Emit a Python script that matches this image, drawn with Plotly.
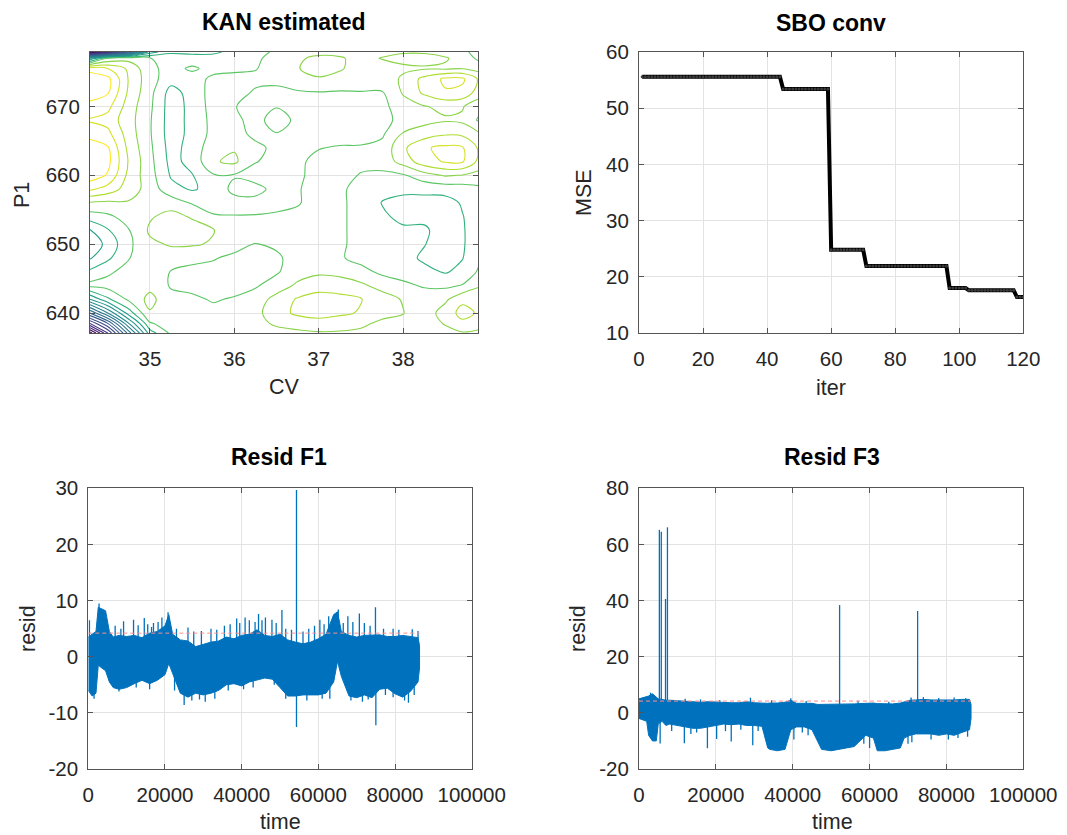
import plotly.graph_objects as go
from plotly.colors import sample_colorscale

W, H = 1067, 835

# ---------------- Panel 1: KAN estimated (contour of estimated surface) ----------------
cv_grid = [34.29, 34.5, 34.75, 35.0, 35.25, 35.5, 35.75, 36.0, 36.25, 36.5,
           36.75, 37.0, 37.25, 37.5, 37.75, 38.0, 38.25, 38.5, 38.7, 38.89]
p1_grid = [637.1, 638.5, 640, 642, 644, 646, 648, 650, 652, 654, 656, 658,
           660, 662, 664, 666, 668, 670, 672, 674, 675.5, 677, 677.9]
kan_z = [
    [-0.5, 4.0, 9.5, 14.5, 16.2, 16.5, 16.6, 16.6, 16.7, 16.8, 16.8, 16.9, 16.9, 16.8, 16.6, 16.4, 16.4, 16.6, 16.9, 16.8],
    [4.0, 7.0, 12.0, 15.9, 16.5, 16.5, 16.5, 16.6, 16.8, 17.1, 17.4, 17.6, 17.4, 17.2, 16.8, 16.6, 16.4, 17.1, 17.8, 17.4],
    [8.0, 11.0, 14.5, 16.9, 16.5, 16.4, 16.3, 16.4, 16.7, 17.6, 18.2, 18.4, 18.2, 17.9, 17.3, 17.05, 16.4, 17.5, 18.3, 17.9],
    [13.0, 14.8, 16.2, 17.3, 16.3, 16.2, 15.9, 16.1, 16.4, 17.4, 18.1, 18.4, 18.3, 18.05, 17.5, 16.9, 16.5, 16.8, 17.8, 17.6],
    [16.3, 16.4, 16.6, 16.7, 15.9, 15.7, 15.5, 15.6, 15.9, 16.4, 17.2, 17.6, 17.5, 17.2, 16.6, 16.2, 15.9, 15.8, 16.05, 16.9],
    [15.2, 15.8, 16.4, 16.6, 15.95, 15.7, 15.6, 15.4, 15.7, 15.9, 16.5, 16.8, 16.7, 16.3, 15.8, 15.6, 15.3, 14.9, 15.3, 16.1],
    [13.9, 14.8, 15.95, 16.6, 16.5, 16.3, 16.1, 15.7, 15.6, 15.8, 16.5, 16.5, 16.1, 15.7, 15.5, 15.4, 14.8, 14.5, 14.95, 15.8],
    [13.3, 14.3, 15.8, 16.8, 17.1, 17.1, 16.9, 16.5, 15.95, 16.2, 16.5, 16.5, 16.2, 15.6, 15.4, 15.3, 15.05, 14.4, 14.9, 15.5],
    [13.9, 14.9, 15.95, 17.15, 17.5, 17.4, 17.05, 16.6, 16.5, 16.5, 16.5, 16.5, 16.2, 15.6, 15.3, 15.2, 15.2, 14.4, 14.9, 15.5],
    [15.5, 15.8, 16.4, 16.9, 17.3, 16.9, 16.1, 16.05, 16.05, 16.1, 16.3, 16.5, 16.2, 15.6, 15.2, 14.7, 14.7, 14.4, 14.95, 15.5],
    [16.9, 16.8, 16.9, 16.8, 16.6, 15.9, 15.6, 15.6, 15.7, 15.8, 15.9, 16.5, 16.2, 15.6, 14.95, 14.6, 14.6, 14.6, 15.1, 15.6],
    [19.2, 18.6, 17.5, 16.6, 15.3, 14.9, 15.3, 16.3, 16.3, 15.7, 15.9, 16.5, 16.2, 15.6, 15.4, 15.3, 15.3, 15.4, 15.5, 15.8],
    [20.6, 19.9, 17.7, 16.4, 14.9, 14.95, 15.9, 15.9, 15.6, 15.6, 15.8, 16.4, 16.5, 15.9, 15.8, 15.9, 16.6, 17.1, 16.95, 16.6],
    [20.9, 20.3, 17.9, 16.3, 14.7, 15.3, 16.9, 17.2, 16.05, 15.7, 15.8, 16.3, 16.5, 16.4, 16.4, 17.4, 18.6, 19.1, 19.15, 17.8],
    [20.6, 20.1, 17.7, 16.2, 14.6, 15.4, 16.6, 16.9, 16.2, 15.8, 15.6, 15.95, 16.1, 16.1, 16.3, 17.8, 18.9, 19.2, 19.1, 17.9],
    [19.6, 19.3, 17.5, 16.1, 14.5, 15.3, 16.3, 16.3, 15.8, 15.95, 15.6, 15.5, 15.5, 15.6, 15.85, 17.1, 17.5, 17.9, 17.8, 17.2],
    [18.9, 18.6, 17.4, 16.1, 14.5, 15.3, 16.3, 16.2, 15.7, 16.4, 15.8, 15.6, 15.5, 15.5, 15.7, 16.3, 16.7, 16.9, 16.8, 15.9],
    [19.6, 19.3, 17.5, 16.2, 14.5, 15.3, 16.4, 16.05, 15.6, 15.95, 15.6, 15.6, 15.6, 15.6, 15.7, 16.6, 16.95, 17.2, 17.1, 16.3],
    [20.6, 20.1, 17.8, 16.3, 14.6, 15.4, 16.4, 16.3, 15.9, 15.8, 15.85, 15.95, 15.9, 15.95, 15.95, 17.1, 18.2, 18.9, 18.7, 17.6],
    [20.8, 20.3, 17.9, 16.4, 15.4, 15.6, 16.2, 16.3, 16.2, 16.2, 16.8, 16.9, 16.7, 16.5, 16.3, 17.2, 18.3, 19.2, 19.2, 17.9],
    [19.5, 19.0, 17.8, 16.2, 15.7, 16.15, 15.7, 15.8, 15.95, 16.4, 16.95, 17.4, 17.1, 16.6, 16.6, 16.8, 16.9, 16.85, 16.95, 16.6],
    [13.0, 16.0, 16.6, 16.05, 15.6, 15.5, 15.4, 15.5, 15.8, 16.4, 16.9, 17.15, 17.1, 16.7, 17.05, 17.3, 17.3, 17.1, 16.6, 15.8],
    [-0.5, 2.0, 7.0, 13.5, 14.8, 14.7, 14.8, 15.3, 15.6, 16.2, 16.5, 16.8, 16.7, 16.5, 16.7, 16.9, 16.9, 16.6, 16.2, 15.7],
]
# viridis position used for each contour level 0..20
level_pos = [0.55 * k / 14 for k in range(15)] + [0.64, 0.74, 0.82, 0.88, 0.94, 1.0]
level_cols = sample_colorscale("Viridis", level_pos)
kan_colorscale = [[k / 20, c] for k, c in enumerate(level_cols)]

# ---------------- Panel 2: SBO convergence ----------------
sbo_iter = list(range(1, 121))
sbo_mse = [55.6] * 44 + [53.4] * 15 + [24.8] * 11 + [21.9] * 26 + [18.0] * 6 + [17.6] * 15 + [16.4] * 3

# ---------------- Panel 3: Resid F1 (envelope of dense residual trace) ----------------
f1_t = [0, 1000, 2000, 2600, 3500, 4500, 5500, 6500, 8000, 10000, 12000, 14000, 16000, 18000,
        20000, 21000, 22000, 24000, 26000, 28000, 30000, 32000, 34000, 36000, 38000, 40000,
        42000, 44000, 46000, 48000, 50000, 52000, 54000, 56000, 58000, 60000, 62000, 64000,
        65000, 66000, 68000, 70000, 72000, 74000, 76000, 78000, 80000, 82000, 84000, 86000, 86400]
f1_hi = [3.5, 4.0, 4.5, 8.8, 8.5, 8.2, 4.5, 3.5, 3.8, 3.6, 3.8, 3.4, 4.2, 4.5,
         5.5, 7.5, 4.0, 3.0, 2.8, 1.8, 2.2, 2.6, 2.8, 3.5, 3.2, 3.8,
         4.0, 4.8, 3.8, 3.6, 4.0, 3.0, 2.6, 2.3, 2.6, 3.2, 4.0, 7.5,
         8.0, 4.5, 3.8, 3.5, 3.8, 3.8, 3.9, 3.6, 3.6, 3.8, 3.6, 3.4, 2.0]
f1_lo = [-6.0, -7.0, -6.5, -1.5, -2.0, -2.5, -4.5, -5.5, -5.8, -5.5, -4.8, -4.2, -4.8, -4.2,
         -3.2, -1.2, -3.0, -6.5, -7.2, -6.5, -6.8, -6.5, -6.0, -5.0, -4.8, -5.2,
         -4.5, -4.2, -3.8, -4.0, -5.5, -7.0, -7.0, -6.8, -6.8, -6.8, -6.5, -4.5,
         -0.8, -3.5, -7.0, -7.3, -6.8, -7.3, -5.8, -5.6, -6.6, -7.2, -6.2, -4.5, -2.0]
f1_spike_t = [300, 2800, 9200, 11800, 14600, 17000, 19200, 20800, 26000, 32000, 38700, 40900,
              44400, 46200, 47900, 50500, 54300, 57500, 60400, 62700, 65200, 67700, 70700,
              74900, 79500, 84500,
              7000, 8500, 13000, 15500, 16500, 18200, 23000, 27500, 29500, 33500, 35500, 37000,
              39500, 42000, 43500, 45300, 49000, 51500, 53000, 56000, 59000, 61500, 63500, 66500,
              69000, 72000, 73500, 77000, 81000, 86000,
              25000, 30500, 54300, 75000, 83500,
              1500, 8000, 12500, 16000, 22500, 27000, 29000, 33000, 36500, 40500, 43000, 48500,
              51500, 57000, 61000, 63000, 68500, 71500, 73000, 77500, 79500, 82500, 85000]
f1_spike_v = [6.5, 9.5, 6.3, 6.6, 6.9, 6.0, 7.0, 7.9, 5.2, 5.0, 6.8, 7.0,
              7.6, 7.0, 6.6, 8.3, 29.7, 5.0, 6.6, 7.2, 8.4, 7.2, 7.7,
              8.8, 5.0, 4.9,
              5.5, 5.0, 5.6, 5.8, 5.3, 6.2, 5.0, 4.5, 4.6, 4.8, 5.5, 5.8,
              6.0, 6.5, 6.2, 6.5, 6.0, 5.0, 4.8, 4.5, 5.5, 5.8, 6.0, 6.0,
              6.2, 6.0, 5.5, 5.0, 4.8, 4.6,
              -8.6, -8.0, -12.5, -12.2, -8.2,
              -7.5, -6.2, -5.5, -5.8, -6.0, -7.8, -7.6, -7.5, -6.0, -5.8, -5.5, -5.0,
              -7.5, -7.8, -7.5, -7.5, -7.8, -8.0, -7.6, -6.8, -7.2, -7.8, -6.8]
f1_threshold = 4.2

# ---------------- Panel 4: Resid F3 ----------------
f3_t = [0, 1000, 2000, 2500, 3500, 4500, 5000, 6000, 7000, 8000, 10000, 12000, 14000, 16000,
        18000, 20000, 22000, 24000, 26000, 28000, 30000, 32000, 33500, 34000, 36000, 38000,
        38800, 39500, 41000, 43000, 45000, 46500, 47500, 50000, 52000, 54000, 56000, 57500,
        59000, 61000, 62000, 64000, 66000, 68000, 69000, 70500, 72000, 74000, 76000, 78000,
        80000, 82000, 84000, 86000, 86400]
f3_hi = [5.0, 5.5, 6.0, 6.0, 6.8, 5.8, 5.0, 4.8, 4.5, 4.5, 4.3, 4.2, 4.0, 3.8,
         4.0, 3.8, 3.8, 3.6, 3.6, 4.0, 3.6, 3.4, 3.4, 3.5, 3.5, 3.8,
         4.2, 4.5, 3.4, 3.5, 3.4, 3.0, 3.0, 3.0, 3.2, 3.0, 3.2, 3.3,
         3.5, 3.5, 3.3, 3.3, 3.2, 3.5, 3.8, 4.5, 4.6, 4.8, 4.6, 4.6,
         4.5, 4.6, 4.8, 4.8, 3.0]
f3_lo = [-2.0, -2.5, -3.0, -8.0, -10.0, -10.0, -4.0, -3.0, -4.5, -4.0, -4.5, -5.0, -5.5, -5.5,
         -5.0, -4.5, -4.0, -4.2, -4.0, -4.5, -4.5, -4.8, -12.5, -13.0, -13.5, -13.0,
         -9.0, -6.0, -5.0, -5.0, -6.0, -10.0, -13.0, -13.5, -13.0, -12.5, -12.0, -10.0,
         -8.0, -9.0, -13.5, -13.5, -13.0, -12.5, -9.0, -8.0, -7.5, -7.5, -7.5, -8.0,
         -7.5, -8.0, -7.0, -6.0, -2.0]
f3_spike_t = [5300, 5800, 6900, 7400, 52200, 72500, 3000, 29000, 39500, 74000,
              12000, 16000, 21000, 34500, 43500, 57000, 65000, 70800, 78000, 82000, 85000,
              5500, 11800, 17800, 20200, 24000, 29600, 40300, 60000, 71000,
              8500, 13500, 15000, 22500, 26500, 31000, 42500, 44000, 58500, 70000, 76000,
              80500, 83000, 85500]
f3_spike_v = [65.2, 64.5, 40.6, 66.1, 38.4, 36.3, 7.2, 5.4, 5.2, 5.6,
              5.0, 4.8, 4.6, 4.5, 4.2, 4.3, 4.0, 5.5, 5.3, 5.5, 5.2,
              -10.9, -10.8, -12.6, -9.3, -10.2, -11.5, -9.5, -12.5, -10.5,
              -6.5, -7.5, -7.0, -6.5, -6.0, -6.5, -7.0, -8.0, -11.0, -11.0, -9.5,
              -9.5, -9.0, -8.5]
f3_threshold = 4.2
t_end = 86400

# ---------------- styling ----------------
FONT = "Liberation Sans"
BLUE = "#0072bd"
AXC = "#555555"
TXT = "#262626"


def px_x(x):
    return x / W


def px_y(y):
    return 1 - y / H


axis_common = dict(showline=True, linecolor=AXC, linewidth=1, mirror="ticks",
                   ticks="inside", ticklen=5, tickwidth=1, tickcolor=AXC,
                   showgrid=True, gridcolor="#e3e3e3", gridwidth=1, zeroline=False,
                   automargin=False,
                   tickfont=dict(family=FONT, size=20.5, color=TXT))
xaxis_extra = dict(ticklabelstandoff=7)
yaxis_extra = dict(ticklabelstandoff=5)

fig = go.Figure()

fig.add_trace(go.Contour(
    x=cv_grid, y=p1_grid, z=kan_z, xaxis="x", yaxis="y",
    contours=dict(coloring="lines", start=0, end=20, size=1, showlabels=False),
    line=dict(width=1.1, smoothing=1.0),
    colorscale=kan_colorscale, zauto=False, zmin=0, zmax=20, showscale=False,
    hoverinfo="skip"))

fig.add_trace(go.Scatter(
    x=sbo_iter, y=sbo_mse, xaxis="x2", yaxis="y2", mode="lines+markers",
    line=dict(color="black", width=4),
    marker=dict(color="#3a3a3a", size=3, symbol="circle"), hoverinfo="skip"))


def add_resid(t, hi, lo, spk_t, spk_v, thr, xa, ya):
    fig.add_trace(go.Scatter(
        x=t + t[::-1], y=hi + lo[::-1], xaxis=xa, yaxis=ya, mode="lines",
        fill="toself", fillcolor=BLUE, line=dict(color=BLUE, width=1), hoverinfo="skip"))
    sx, sy = [], []
    for tt, vv in zip(spk_t, spk_v):
        sx += [tt, tt, None]
        sy += [0, vv, None]
    fig.add_trace(go.Scatter(x=sx, y=sy, xaxis=xa, yaxis=ya, mode="lines",
                             line=dict(color=BLUE, width=1.3), hoverinfo="skip"))
    fig.add_trace(go.Scatter(x=[0, t_end], y=[thr, thr], xaxis=xa, yaxis=ya, mode="lines",
                             line=dict(color="#ff8c8c", width=1, dash="4px,3px"),
                             hoverinfo="skip"))


add_resid(f1_t, f1_hi, f1_lo, f1_spike_t, f1_spike_v, f1_threshold, "x3", "y3")
add_resid(f3_t, f3_hi, f3_lo, f3_spike_t, f3_spike_v, f3_threshold, "x4", "y4")

dom_tl_x = [px_x(90), px_x(478.3)]
dom_tr_x = [px_x(639), px_x(1023.3)]
dom_bl_x = [px_x(88.3), px_x(471.7)]
dom_top_y = [px_y(333), px_y(52)]
dom_bot_y = [px_y(769), px_y(488.3)]

time_ticks = [0, 20000, 40000, 60000, 80000, 100000]

fig.update_layout(
    width=W, height=H, margin=dict(l=0, r=0, t=0, b=0, pad=0, autoexpand=False),
    paper_bgcolor="white", plot_bgcolor="white", showlegend=False,
    xaxis=dict(domain=dom_tl_x, anchor="y", range=[34.29, 38.89], tickvals=[35, 36, 37, 38],
               **axis_common, **xaxis_extra),
    yaxis=dict(domain=dom_top_y, anchor="x", range=[637.1, 677.9], tickvals=[640, 650, 660, 670],
               **axis_common, **yaxis_extra),
    xaxis2=dict(domain=dom_tr_x, anchor="y2", range=[0, 120], tickvals=[0, 20, 40, 60, 80, 100, 120],
                **axis_common, **xaxis_extra),
    yaxis2=dict(domain=dom_top_y, anchor="x2", range=[10, 60], tickvals=[10, 20, 30, 40, 50, 60],
                **axis_common, **yaxis_extra),
    xaxis3=dict(domain=dom_bl_x, anchor="y3", range=[0, 100000], tickvals=time_ticks,
                ticktext=[str(v) for v in time_ticks], **axis_common, **xaxis_extra),
    yaxis3=dict(domain=dom_bot_y, anchor="x3", range=[-20, 30], tickvals=[-20, -10, 0, 10, 20, 30],
                ticktext=["-20", "-10", "0", "10", "20", "30"], **axis_common, **yaxis_extra),
    xaxis4=dict(domain=dom_tr_x, anchor="y4", range=[0, 100000], tickvals=time_ticks,
                ticktext=[str(v) for v in time_ticks], **axis_common, **xaxis_extra),
    yaxis4=dict(domain=dom_bot_y, anchor="x4", range=[-20, 80], tickvals=[-20, 0, 20, 40, 60, 80],
                ticktext=["-20", "0", "20", "40", "60", "80"], **axis_common, **yaxis_extra),
)

annots = []


def label(text, x, y, size=21.5, bold=False, angle=0, color=TXT):
    annots.append(dict(text=f"<b>{text}</b>" if bold else text, x=px_x(x), y=px_y(y),
                       xref="paper", yref="paper", showarrow=False, textangle=angle,
                       xanchor="center", yanchor="middle",
                       font=dict(family=FONT, size=size, color=color)))


label("KAN estimated", 284, 22, size=23, bold=True, color="black")
label("SBO conv", 831, 23, size=23, bold=True, color="black")
label("Resid F1", 279, 457, size=23, bold=True, color="black")
label("Resid F3", 832, 457, size=23, bold=True, color="black")
label("CV", 284, 387)
label("P1", 22, 195, angle=-90)
label("iter", 831, 388)
label("MSE", 584, 193, angle=-90)
label("time", 280, 822)
label("resid", 28, 629, angle=-90)
label("time", 832, 822)
label("resid", 578, 629, angle=-90)

fig.update_layout(annotations=annots)

fig.write_html("out.html", config={"displayModeBar": False},
               post_script="document.body.style.margin='0px';")
